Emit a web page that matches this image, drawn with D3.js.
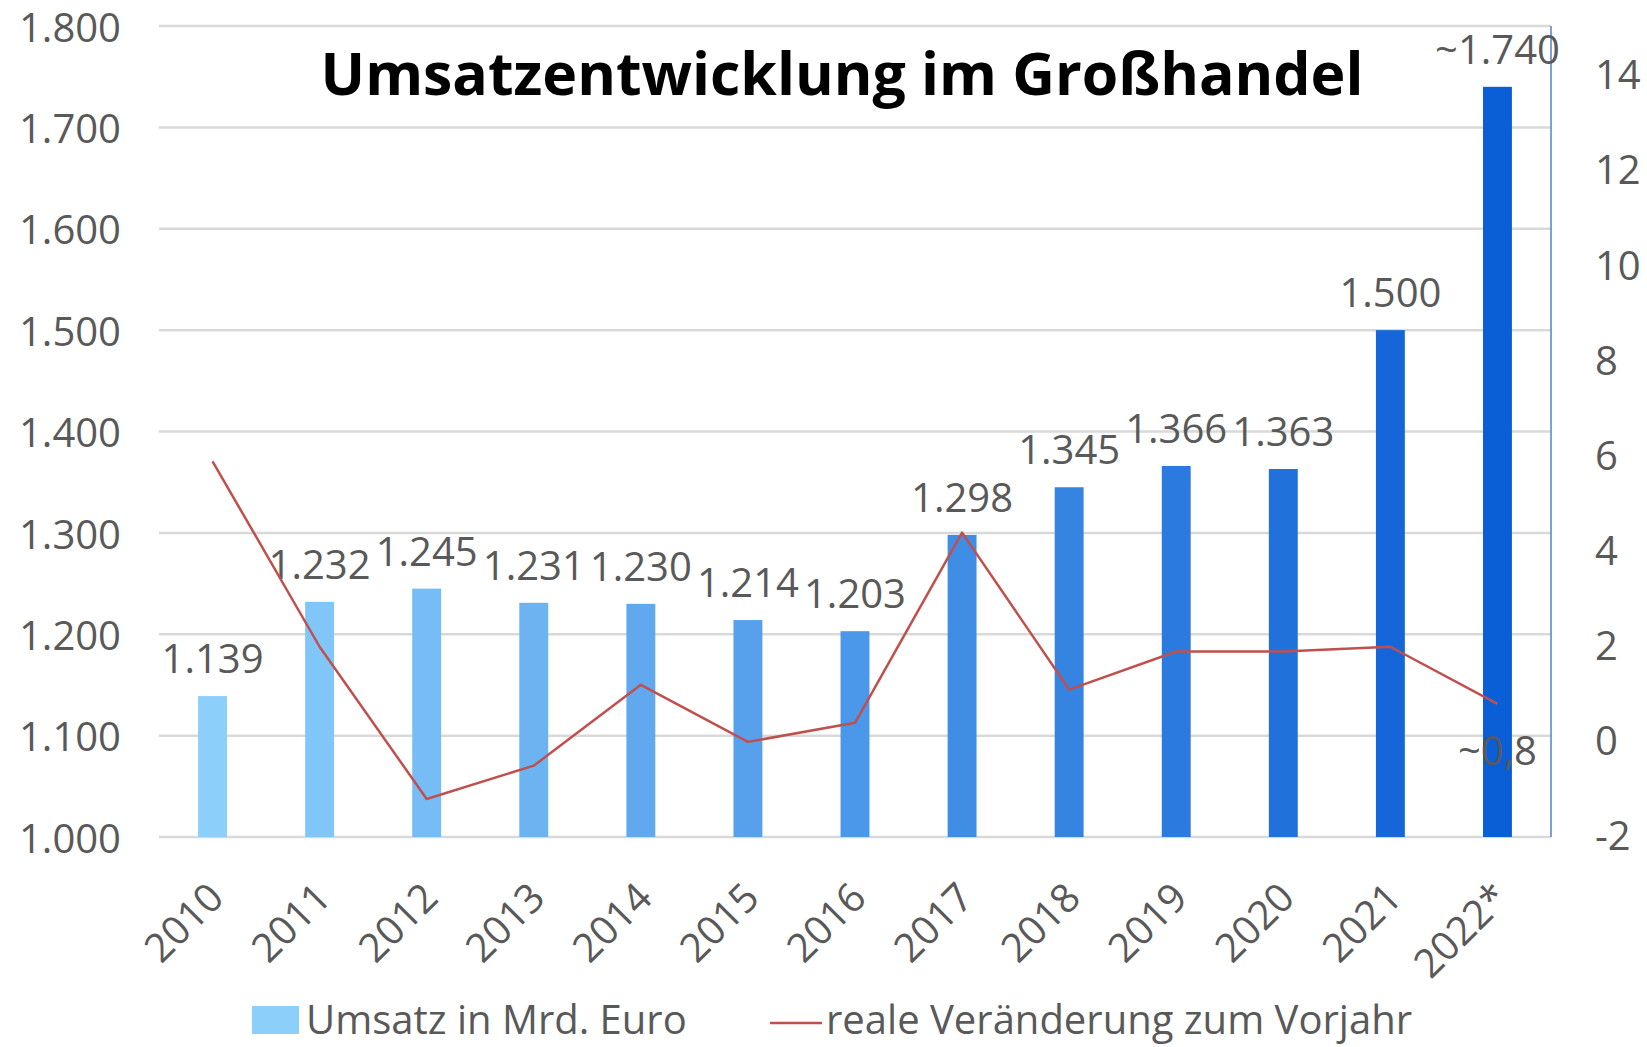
<!DOCTYPE html>
<html>
<head>
<meta charset="utf-8">
<script src="https://cdn.jsdelivr.net/npm/d3@7"></script>
<style>
  body { margin: 0; background: #fff; }
  text { font-family: 'Open Sans', sans-serif; }
</style>
</head>
<body>
<svg id="svg" width="1647" height="1047"></svg>
<script>
const years = ['2010', '2011', '2012', '2013', '2014', '2015', '2016', '2017', '2018', '2019', '2020', '2021', '2022*']
const umsatz = [1139, 1232, 1245, 1231, 1230, 1214, 1203, 1298, 1345, 1366, 1363, 1500, 1740]
const umsatzLabels = ['1.139', '1.232', '1.245', '1.231', '1.230', '1.214', '1.203', '1.298', '1.345', '1.366', '1.363', '1.500', '~1.740']
const veraenderung = [5.9, 2.0, -1.2, -0.5, 1.2, 0.0, 0.4, 4.4, 1.1, 1.9, 1.9, 2.0, 0.8]
const lastChangeLabel = '~0,8'
const leftTicks = [1000, 1100, 1200, 1300, 1400, 1500, 1600, 1700, 1800]
const rightTicks = [-2, 0, 2, 4, 6, 8, 10, 12, 14]
const title = 'Umsatzentwicklung im Großhandel'
const legendBar = 'Umsatz in Mrd. Euro'
const legendLine = 'reale Veränderung zum Vorjahr'

const plotLeft = 159
const plotRight = 1551
const plotTop = 26
const plotBottom = 837
const textColor = '#595959'

const de = d3.formatLocale({ decimal: ',', thousands: '.', grouping: [3], currency: ['', ' €'] })
const fmt = de.format(',')

const svg = d3.select('#svg')

const x = d3.scaleBand()
  .domain(years)
  .range([plotLeft, plotRight])
  .paddingInner(0.73)
  .paddingOuter(0.365)

const yLeft = d3.scaleLinear().domain([1000, 1800]).range([plotBottom, plotTop])
const yRight = d3.scaleLinear().domain([-2, 14]).range([plotBottom, 76])

const barColor = d3.scaleLinear()
  .domain([0, years.length - 1])
  .range(['#8ccffb', '#0a5ed6'])

// gridlines
svg.append('g')
  .selectAll('line')
  .data(leftTicks)
  .join('line')
  .attr('x1', plotLeft)
  .attr('x2', plotRight)
  .attr('y1', d => yLeft(d))
  .attr('y2', d => yLeft(d))
  .attr('stroke', '#d9d9d9')
  .attr('stroke-width', 2.5)

// right border
svg.append('line')
  .attr('x1', plotRight).attr('x2', plotRight)
  .attr('y1', plotTop).attr('y2', plotBottom)
  .attr('stroke', '#4f81d0')
  .attr('stroke-width', 1.5)

// axes
const leftAxis = svg.append('g')
  .attr('transform', `translate(${plotLeft}, 0)`)
  .call(d3.axisLeft(yLeft).tickValues(leftTicks).tickFormat(fmt).tickSize(0).tickPadding(38))
const rightAxis = svg.append('g')
  .attr('transform', `translate(${plotRight}, 0)`)
  .call(d3.axisRight(yRight).tickValues(rightTicks).tickFormat(d => d).tickSize(0).tickPadding(44))
const xAxis = svg.append('g')
  .attr('transform', `translate(0, ${plotBottom})`)
  .call(d3.axisBottom(x).tickSize(0))

for (const ax of [leftAxis, rightAxis, xAxis]) {
  ax.select('.domain').remove()
  ax.selectAll('text')
    .attr('font-family', "'Open Sans', sans-serif")
    .attr('font-size', 40)
    .attr('fill', textColor)
}

leftAxis.selectAll('text').attr('dy', '0.38em')

xAxis.selectAll('text')
  .attr('text-anchor', 'end')
  .attr('dy', 0)
  .attr('y', 0)
  .attr('transform', `translate(${x.bandwidth() / 2 - 1}, 63) rotate(-45)`)

// bars
svg.append('g')
  .selectAll('rect')
  .data(umsatz)
  .join('rect')
  .attr('x', (d, i) => x(years[i]))
  .attr('width', x.bandwidth())
  .attr('y', d => yLeft(d))
  .attr('height', d => yLeft(1000) - yLeft(d))
  .attr('fill', (d, i) => barColor(i))

// bar labels
svg.append('g')
  .selectAll('text')
  .data(umsatz)
  .join('text')
  .attr('x', (d, i) => x(years[i]) + x.bandwidth() / 2)
  .attr('y', d => yLeft(d) - 23)
  .attr('text-anchor', 'middle')
  .attr('font-size', 40)
  .attr('fill', textColor)
  .text((d, i) => umsatzLabels[i])

// line
const line = d3.line()
  .x((d, i) => x(years[i]) + x.bandwidth() / 2)
  .y(d => yRight(d))

svg.append('path')
  .attr('d', line(veraenderung))
  .attr('fill', 'none')
  .attr('stroke', '#c0504d')
  .attr('stroke-width', 2.5)
  .attr('stroke-linejoin', 'round')

const lastIdx = veraenderung.length - 1
svg.append('text')
  .attr('x', x(years[lastIdx]) + x.bandwidth() / 2)
  .attr('y', yRight(veraenderung[lastIdx]) + 61)
  .attr('text-anchor', 'middle')
  .attr('font-size', 40)
  .attr('fill', textColor)
  .text(lastChangeLabel)

// title
const titleText = svg.append('text')
  .attr('x', 842)
  .attr('y', 95)
  .attr('text-anchor', 'middle')
  .attr('font-weight', 'bold')
  .attr('font-size', 64)
  .attr('fill', '#000')
  .text(title)
const tw = titleText.node().getComputedTextLength()
titleText.attr('font-size', 64 * 1043 / tw)

// legend
const legend = svg.append('g')
legend.append('rect')
  .attr('x', 252).attr('y', 1006)
  .attr('width', 47).attr('height', 28)
  .attr('fill', barColor(0))
legend.append('text')
  .attr('x', 306).attr('y', 1034)
  .attr('font-size', 40)
  .attr('fill', textColor)
  .text(legendBar)
legend.append('line')
  .attr('x1', 770).attr('x2', 822)
  .attr('y1', 1023).attr('y2', 1023)
  .attr('stroke', '#c0504d')
  .attr('stroke-width', 2.5)
legend.append('text')
  .attr('x', 826).attr('y', 1034)
  .attr('font-size', 40)
  .attr('fill', textColor)
  .text(legendLine)
</script>
</body>
</html>
